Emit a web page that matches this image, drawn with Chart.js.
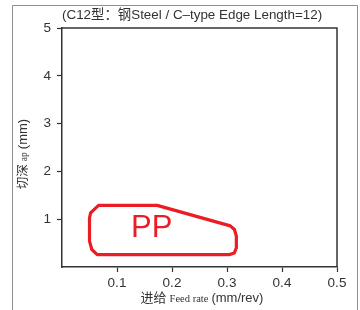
<!DOCTYPE html>
<html><head><meta charset="utf-8">
<script src="https://cdn.jsdelivr.net/npm/chart.js@4.4.0/dist/chart.umd.min.js"></script>
<style>html,body{margin:0;padding:0;background:#fff}canvas{display:block}</style>
</head><body>
<canvas id="c" width="360" height="310"></canvas>
<script>
// ---- data ----
const chartTitle = '(C12型：钢Steel / C–type Edge Length=12)';
const xTitleParts = ['进给', 'Feed rate', '(mm/rev)'];
const yTitleParts = ['切深', 'ap', '(mm)'];
const xTicks = [0.1, 0.2, 0.3, 0.4, 0.5];
const yTicks = [1, 2, 3, 4, 5];
const regionName = 'PP';
// outline of the recommended PP region (feed rate, depth of cut)
const regionFeed  = [0.0665, 0.173, 0.306, 0.3135, 0.317, 0.317, 0.3133, 0.305, 0.064, 0.0542, 0.050, 0.050, 0.052, 0.0587, 0.0665];
const regionDepth = [1.29,   1.29,  0.86,  0.785,  0.65,  0.40,  0.293,  0.26,  0.26,  0.366,  0.54,  1.025, 1.13,  1.207,  1.29];
const labelFeed = 0.163;
const labelDepth = 0.80;

const RED = '#ec1c24';
const INK = '#333333';
const SANS = '"Liberation Sans", Arial, "Noto Sans CJK SC", sans-serif';
const SERIF = '"Liberation Serif", "Times New Roman", serif';
const CJK = '"Noto Sans CJK SC", sans-serif';

function measureRuns(ctx, runs) {
  let total = 0;
  runs.forEach(r => { ctx.font = r.font; r.w = ctx.measureText(r.text).width; total += r.w + (r.gap || 0); });
  return total;
}

const decor = {
  id: 'decor',
  afterDraw(chart) {
    const ctx = chart.ctx;
    const a = chart.chartArea;
    ctx.save();
    // outer frame
    ctx.strokeStyle = '#8f8f8f';
    ctx.lineWidth = 1;
    ctx.beginPath();
    ctx.moveTo(12.5, 310); ctx.lineTo(12.5, 5.5); ctx.lineTo(357.5, 5.5); ctx.lineTo(357.5, 310);
    ctx.stroke();
    // plot box top/right
    ctx.strokeStyle = INK;
    ctx.lineWidth = 1.5;
    ctx.beginPath();
    ctx.moveTo(a.left, a.top); ctx.lineTo(a.right, a.top); ctx.lineTo(a.right, a.bottom);
    ctx.stroke();
    // title
    ctx.fillStyle = INK;
    ctx.font = '13.4px ' + SANS;
    ctx.textAlign = 'left';
    ctx.textBaseline = 'middle';
    ctx.fillText(chartTitle, 62, 15);
    // x title (mixed fonts)
    const xr = [
      {text: xTitleParts[0], font: '13px ' + CJK, gap: 3},
      {text: xTitleParts[1], font: '10.5px ' + SERIF, gap: 3},
      {text: xTitleParts[2], font: '13px ' + SANS, gap: 0}
    ];
    let tw = measureRuns(ctx, xr);
    let x = 202 - tw / 2;
    ctx.textBaseline = 'alphabetic';
    xr.forEach(r => { ctx.font = r.font; ctx.fillText(r.text, x, 301.5); x += r.w + r.gap; });
    // y title (rotated)
    const yr = [
      {text: yTitleParts[0], font: '12.5px ' + CJK, gap: 3},
      {text: yTitleParts[1], font: '9.5px ' + SERIF, gap: 3},
      {text: yTitleParts[2], font: '13px ' + SANS, gap: 0}
    ];
    tw = measureRuns(ctx, yr);
    ctx.translate(26.5, 154);
    ctx.rotate(-Math.PI / 2);
    x = -tw / 2;
    yr.forEach(r => { ctx.font = r.font; ctx.fillText(r.text, x, 0); x += r.w + r.gap; });
    ctx.restore();
    // region label
    const xs = chart.scales.x, ys = chart.scales.y;
    ctx.save();
    ctx.fillStyle = RED;
    ctx.font = '31px ' + SANS;
    ctx.textAlign = 'center';
    ctx.textBaseline = 'middle';
    ctx.fillText(regionName, xs.getPixelForValue(labelFeed), ys.getPixelForValue(labelDepth));
    ctx.restore();
  }
};

new Chart(document.getElementById('c'), {
  type: 'line',
  data: {
    datasets: [{
      label: regionName,
      data: regionFeed.map((f, i) => ({x: f, y: regionDepth[i]})),
      borderColor: RED,
      borderWidth: 3.2,
      pointRadius: 0,
      tension: 0,
      fill: false,
      borderJoinStyle: 'round',
      borderCapStyle: 'round'
    }]
  },
  options: {
    responsive: false,
    animation: false,
    layout: {padding: {left: 0, top: 28, right: 23, bottom: 0}},
    plugins: {legend: {display: false}, tooltip: {enabled: false}, title: {display: false}},
    scales: {
      x: {
        type: 'linear', min: 0, max: 0.5,
        afterBuildTicks: s => { s.ticks = xTicks.map(v => ({value: v})); },
        afterFit: s => { s.height = 43; },
        ticks: {font: {size: 13.5, family: SANS}, color: INK, padding: 3, maxRotation: 0, callback: v => v.toFixed(1)},
        grid: {drawOnChartArea: false, drawTicks: true, tickLength: 5, tickColor: INK, tickWidth: 1.2},
        border: {display: true, color: INK, width: 1.5}
      },
      y: {
        type: 'linear', min: 0, max: 5,
        afterBuildTicks: s => { s.ticks = yTicks.map(v => ({value: v})); },
        afterFit: s => { s.width = 62; },
        ticks: {font: {size: 13.5, family: SANS}, color: INK, padding: 6, callback: v => String(v)},
        grid: {drawOnChartArea: false, drawTicks: true, tickLength: 5, tickColor: INK, tickWidth: 1.2},
        border: {display: true, color: INK, width: 1.5}
      }
    }
  },
  plugins: [decor]
});
</script>
</body></html>
